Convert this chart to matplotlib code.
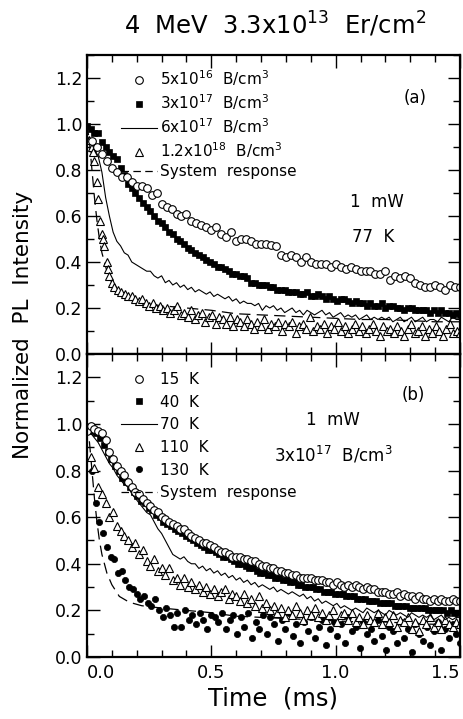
import numpy as np
import matplotlib.pyplot as plt
from matplotlib.ticker import MultipleLocator
from matplotlib.lines import Line2D

# ---- panel (a): 77 K, 1 mW, different B concentrations ----
b5e16 = [0.925, 0.90, 0.87, 0.84, 0.81, 0.79, 0.77, 0.77, 0.75, 0.73,
         0.73, 0.72, 0.69, 0.70, 0.65, 0.64, 0.63, 0.61, 0.60, 0.61,
         0.58, 0.57, 0.56, 0.55, 0.54, 0.55, 0.52, 0.51, 0.53, 0.49,
         0.50, 0.50, 0.49, 0.48, 0.48, 0.48, 0.475, 0.47, 0.43, 0.42,
         0.43, 0.42, 0.40, 0.42, 0.40, 0.39, 0.39, 0.39, 0.38, 0.39,
         0.38, 0.37, 0.38, 0.37, 0.36, 0.36, 0.36, 0.35, 0.35, 0.36,
         0.32, 0.34, 0.33, 0.34, 0.33, 0.31, 0.30, 0.29, 0.29, 0.30,
         0.29, 0.28, 0.30, 0.29, 0.29]
b3e17 = [0.99, 0.98, 0.96, 0.96, 0.92, 0.90, 0.88, 0.86, 0.85, 0.81,
         0.78, 0.74, 0.72, 0.70, 0.68, 0.655, 0.64, 0.62, 0.60, 0.58,
         0.57, 0.55, 0.53, 0.52, 0.50, 0.49, 0.48, 0.46, 0.45, 0.44,
         0.43, 0.42, 0.41, 0.40, 0.39, 0.38, 0.38, 0.37, 0.36, 0.35,
         0.35, 0.34, 0.34, 0.33, 0.31, 0.31, 0.30, 0.30, 0.30, 0.29,
         0.29, 0.28, 0.28, 0.28, 0.27, 0.27, 0.27, 0.26, 0.26, 0.27,
         0.25, 0.25, 0.26, 0.25, 0.24, 0.25, 0.24, 0.23, 0.24, 0.24,
         0.23, 0.22, 0.23, 0.22, 0.22, 0.21, 0.22, 0.21, 0.21, 0.22,
         0.20, 0.21, 0.21, 0.20, 0.20, 0.19, 0.20, 0.20, 0.19, 0.19,
         0.19, 0.19, 0.18, 0.19, 0.18, 0.19, 0.18, 0.18, 0.17, 0.18,
         0.17]
b6e17 = [0.95, 0.92, 0.89, 0.86, 0.79, 0.68, 0.60, 0.53, 0.49, 0.47,
         0.44, 0.43, 0.40, 0.39, 0.38, 0.37, 0.36, 0.36, 0.34, 0.33,
         0.34, 0.31, 0.32, 0.30, 0.31, 0.29, 0.30, 0.28, 0.29, 0.27,
         0.28, 0.27, 0.26, 0.27, 0.25, 0.26, 0.25, 0.24, 0.25, 0.23,
         0.24, 0.22, 0.23, 0.22, 0.22, 0.21, 0.22, 0.19, 0.21, 0.20,
         0.21, 0.19, 0.20, 0.18, 0.19, 0.20, 0.18, 0.19, 0.17, 0.19,
         0.18, 0.17, 0.18, 0.19, 0.17, 0.18, 0.16, 0.17, 0.18, 0.16,
         0.17, 0.16, 0.17, 0.15, 0.16, 0.17, 0.15, 0.16, 0.15, 0.16,
         0.15, 0.16, 0.14, 0.15, 0.16, 0.14, 0.15, 0.16, 0.14, 0.15,
         0.16, 0.14, 0.15, 0.15, 0.14, 0.16, 0.15, 0.14, 0.16, 0.15,
         0.15]
b12e18_t_early = [0.01, 0.02, 0.025, 0.03, 0.04, 0.045, 0.052, 0.06, 0.065,
                  0.07, 0.08, 0.085, 0.09, 0.10]
b12e18_early = [0.93, 0.90, 0.88, 0.84, 0.75, 0.675, 0.58, 0.52, 0.50,
                0.47, 0.40, 0.37, 0.34, 0.31]
b12e18_late = [0.29, 0.28, 0.27, 0.26, 0.25, 0.25, 0.24, 0.23, 0.24, 0.22,
               0.21, 0.22, 0.20, 0.21, 0.19, 0.20, 0.18, 0.19, 0.21, 0.17,
               0.18, 0.16, 0.19, 0.15, 0.17, 0.18, 0.14, 0.16, 0.17, 0.13,
               0.16, 0.15, 0.13, 0.16, 0.12, 0.15, 0.14, 0.12, 0.15, 0.13,
               0.11, 0.14, 0.12, 0.15, 0.11, 0.13, 0.12, 0.14, 0.10, 0.13,
               0.12, 0.14, 0.09, 0.12, 0.13, 0.11, 0.16, 0.10, 0.12, 0.11,
               0.13, 0.09, 0.12, 0.11, 0.14, 0.10, 0.12, 0.09, 0.11, 0.13,
               0.10, 0.12, 0.09, 0.11, 0.13, 0.10, 0.08, 0.12, 0.10, 0.11,
               0.09, 0.12, 0.10, 0.08, 0.11, 0.13, 0.09, 0.10, 0.12, 0.08,
               0.11, 0.09, 0.12, 0.10, 0.08, 0.11, 0.13, 0.09, 0.10, 0.09]

# system response (same in both panels)
sys_t = [0.0, 0.01, 0.02, 0.03, 0.04, 0.05, 0.06, 0.08, 0.10, 0.13, 0.17,
         0.22, 0.30, 0.40, 0.50, 0.60, 0.70, 0.80, 0.90, 1.00, 1.10, 1.20,
         1.30, 1.40, 1.50]
sys_v = [1.0, 0.92, 0.80, 0.68, 0.58, 0.50, 0.44, 0.36, 0.31, 0.26, 0.235,
         0.22, 0.21, 0.20, 0.19, 0.175, 0.17, 0.165, 0.16, 0.155, 0.15, 0.15,
         0.145, 0.14, 0.14]

# ---- panel (b): 3x10^17 B/cm^3, 1 mW, different temperatures ----
k15 = [0.97, 0.99, 0.98, 0.97, 0.96, 0.93, 0.88, 0.85, 0.82, 0.80,
       0.78, 0.75, 0.73, 0.71, 0.70, 0.68, 0.66, 0.65, 0.63, 0.62,
       0.60, 0.59, 0.58, 0.57, 0.56, 0.55, 0.55, 0.53, 0.52, 0.51,
       0.50, 0.49, 0.49, 0.48, 0.47, 0.46, 0.45, 0.45, 0.44, 0.43,
       0.43, 0.43, 0.42, 0.42, 0.41, 0.41, 0.40, 0.39, 0.39, 0.38,
       0.38, 0.37, 0.37, 0.36, 0.36, 0.35, 0.35, 0.34, 0.34, 0.34,
       0.34, 0.33, 0.33, 0.33, 0.32, 0.32, 0.31, 0.32, 0.31, 0.30,
       0.31, 0.30, 0.31, 0.30, 0.29, 0.30, 0.29, 0.29, 0.28, 0.28,
       0.28, 0.27, 0.27, 0.28, 0.26, 0.27, 0.26, 0.26, 0.25, 0.26,
       0.25, 0.25, 0.24, 0.25, 0.24, 0.25, 0.24, 0.24, 0.25, 0.24,
       0.24]
k40 = [0.98, 0.97, 0.96, 0.94, 0.91, 0.88, 0.85, 0.82, 0.80, 0.77,
       0.75, 0.73, 0.71, 0.69, 0.67, 0.66, 0.64, 0.63, 0.61, 0.60,
       0.58, 0.57, 0.56, 0.55, 0.54, 0.53, 0.52, 0.51, 0.50, 0.49,
       0.48, 0.47, 0.46, 0.46, 0.45, 0.44, 0.43, 0.43, 0.42, 0.41,
       0.40, 0.40, 0.39, 0.38, 0.38, 0.37, 0.36, 0.36, 0.35, 0.35,
       0.34, 0.34, 0.33, 0.33, 0.32, 0.32, 0.31, 0.31, 0.30, 0.30,
       0.30, 0.29, 0.29, 0.28, 0.28, 0.28, 0.27, 0.27, 0.27, 0.26,
       0.26, 0.26, 0.25, 0.25, 0.25, 0.24, 0.24, 0.24, 0.23, 0.23,
       0.23, 0.23, 0.22, 0.22, 0.22, 0.22, 0.21, 0.21, 0.21, 0.21,
       0.21, 0.20, 0.20, 0.20, 0.20, 0.20, 0.19, 0.20, 0.19, 0.19]
k70 = [0.97, 0.96, 0.94, 0.92, 0.89, 0.86, 0.83, 0.81, 0.78, 0.76,
       0.74, 0.73, 0.70, 0.68, 0.66, 0.64, 0.62, 0.61, 0.58, 0.55,
       0.53, 0.50, 0.47, 0.44, 0.43, 0.42, 0.43, 0.41, 0.40, 0.40,
       0.38, 0.39, 0.37, 0.38, 0.36, 0.37, 0.35, 0.36, 0.34, 0.35,
       0.33, 0.34, 0.32, 0.33, 0.31, 0.32, 0.30, 0.31, 0.30, 0.29,
       0.30, 0.28, 0.29, 0.28, 0.27, 0.28, 0.27, 0.26, 0.27, 0.25,
       0.26, 0.24, 0.25, 0.23, 0.24, 0.23, 0.22, 0.23, 0.21, 0.22,
       0.21, 0.20, 0.21, 0.20, 0.19, 0.21, 0.20, 0.19, 0.20, 0.19,
       0.18, 0.20, 0.19, 0.18, 0.19, 0.18, 0.17, 0.19, 0.18, 0.17,
       0.18, 0.17, 0.18, 0.16, 0.17, 0.18, 0.16, 0.17, 0.16, 0.17,
       0.17]
k110 = [0.86, 0.81, 0.73, 0.70, 0.66, 0.60, 0.62, 0.56, 0.54, 0.52,
        0.50, 0.47, 0.49, 0.44, 0.46, 0.41, 0.39, 0.42, 0.37, 0.38,
        0.35, 0.38, 0.33, 0.34, 0.31, 0.34, 0.30, 0.32, 0.29, 0.31,
        0.28, 0.30, 0.27, 0.29, 0.26, 0.28, 0.29, 0.25, 0.27, 0.26,
        0.24, 0.27, 0.23, 0.25, 0.22, 0.26, 0.21, 0.23, 0.20, 0.22,
        0.19, 0.21, 0.17, 0.20, 0.18, 0.22, 0.19, 0.16, 0.20, 0.18,
        0.21, 0.17, 0.19, 0.16, 0.18, 0.20, 0.15, 0.18, 0.19, 0.16,
        0.19, 0.15, 0.17, 0.14, 0.18, 0.16, 0.15, 0.19, 0.14, 0.17,
        0.15, 0.18, 0.13, 0.16, 0.15, 0.17, 0.12, 0.15, 0.11, 0.16,
        0.14, 0.17, 0.13, 0.15, 0.12, 0.16, 0.14, 0.13, 0.15, 0.14]
k130 = [0.80, 0.66, 0.58, 0.53, 0.47, 0.43, 0.42, 0.36, 0.37, 0.33,
        0.30, 0.29, 0.27, 0.25, 0.26, 0.23, 0.22, 0.25, 0.20, 0.17,
        0.21, 0.18, 0.13, 0.19, 0.13, 0.20, 0.16, 0.18, 0.14, 0.19,
        0.16, 0.12, 0.18, 0.17, 0.15, 0.19, 0.12, 0.16, 0.18, 0.10,
        0.17, 0.13, 0.19, 0.08, 0.15, 0.12, 0.18, 0.10, 0.17, 0.14,
        0.07, 0.16, 0.12, 0.19, 0.09, 0.14, 0.06, 0.15, 0.11, 0.17,
        0.08, 0.13, 0.16, 0.05, 0.12, 0.15, 0.09, 0.14, 0.06, 0.17,
        0.11, 0.13, 0.04, 0.15, 0.10, 0.12, 0.07, 0.16, 0.09, 0.03,
        0.13, 0.11, 0.06, 0.15, 0.08, 0.12, 0.02, 0.14, 0.10, 0.07,
        0.13, 0.05, 0.11, 0.15, 0.03, 0.12, 0.08, 0.14, 0.10, 0.06]

x_ticks = [0.0, 0.5, 1.0, 1.5]
x_ticklabels = ["0.0", "0.5", "1.0", "1.5"]

# sampling grids (evenly spaced acquisition)
t_b5e16 = np.linspace(0.02, 1.5, len(b5e16))
t_b3e17 = np.linspace(0.0, 1.5, len(b3e17))
t_b6e17 = np.linspace(0.0, 1.5, len(b6e17))
t_b12e18 = np.concatenate([b12e18_t_early, np.linspace(0.11, 1.5, len(b12e18_late))])
v_b12e18 = np.concatenate([b12e18_early, b12e18_late])
t_k15 = np.linspace(0.0, 1.5, len(k15))
t_k40 = np.linspace(0.0075, 1.4925, len(k40))
t_k70 = np.linspace(0.0, 1.5, len(k70))
t_k110 = np.linspace(0.015, 1.5, len(k110))
t_k130 = np.linspace(0.02, 1.5, len(k130))

#%%

plt.rcParams['font.family'] = 'DejaVu Sans'
plt.rcParams['mathtext.fontset'] = 'dejavusans'

fig = plt.figure(figsize=(4.64, 7.19), dpi=100)
W, H = 464.0, 719.0
ax_a = fig.add_axes([87/W, 1-354/H, 373/W, 299/H])
ax_b = fig.add_axes([87/W, 1-657/H, 373/W, 303/H])

open_c = dict(ls='none', marker='o', ms=5.5, mfc='white', mec='black', mew=0.8)
fill_s = dict(ls='none', marker='s', ms=4.5, mfc='black', mec='black', mew=0.5)
line_s = dict(color='black', lw=0.8)
open_t = dict(ls='none', marker='^', ms=5.2, mfc='white', mec='black', mew=0.8)
fill_c = dict(ls='none', marker='o', ms=4.5, mfc='black', mec='black', mew=0.5)
dash_s = dict(color='black', lw=0.9, ls=(0, (9, 5)))
dash_leg = dict(color='black', lw=0.9, ls=(0, (6, 3.5)))

# panel a
ax_a.plot(sys_t, sys_v, **dash_s)
ax_a.plot(t_b12e18, v_b12e18, **open_t)
ax_a.plot(t_b6e17, b6e17, **line_s)
ax_a.plot(t_b3e17, b3e17, **fill_s)
ax_a.plot(t_b5e16, b5e16, **open_c)

leg_a = [Line2D([], [], **open_c), Line2D([], [], **fill_s),
         Line2D([], [], **line_s), Line2D([], [], **open_t),
         Line2D([], [], **dash_leg)]
lab_a = [r"5x10$^{16}$  B/cm$^{3}$", r"3x10$^{17}$  B/cm$^{3}$",
         r"6x10$^{17}$  B/cm$^{3}$", r"1.2x10$^{18}$  B/cm$^{3}$",
         "System  response"]
ax_a.legend(leg_a, lab_a, loc='upper left', bbox_to_anchor=(0.09, 0.955),
            frameon=False, fontsize=11, handlelength=2.4, handletextpad=0.15,
            labelspacing=0.28, borderpad=0, borderaxespad=0)
ax_a.text(0.88, 0.856, "(a)", transform=ax_a.transAxes, ha='center', va='center', fontsize=12)
ax_a.text(0.777, 0.508, "1  mW", transform=ax_a.transAxes, ha='center', va='center', fontsize=12)
ax_a.text(0.767, 0.391, "77  K", transform=ax_a.transAxes, ha='center', va='center', fontsize=12)

# panel b
ax_b.plot(sys_t, sys_v, **dash_s)
ax_b.plot(t_k130, k130, **fill_c)
ax_b.plot(t_k110, k110, **open_t)
ax_b.plot(t_k70, k70, **line_s)
ax_b.plot(t_k40, k40, **fill_s)
ax_b.plot(t_k15, k15, **open_c)

leg_b = [Line2D([], [], **open_c), Line2D([], [], **fill_s),
         Line2D([], [], **line_s), Line2D([], [], **open_t),
         Line2D([], [], **fill_c), Line2D([], [], **dash_leg)]
lab_b = ["15  K", "40  K", "70  K", "110  K", "130  K", "System  response"]
ax_b.legend(leg_b, lab_b, loc='upper left', bbox_to_anchor=(0.09, 0.94),
            frameon=False, fontsize=11, handlelength=2.4, handletextpad=0.15,
            labelspacing=0.5, borderpad=0, borderaxespad=0)
ax_b.text(0.874, 0.865, "(b)", transform=ax_b.transAxes, ha='center', va='center', fontsize=12)
ax_b.text(0.66, 0.782, "1  mW", transform=ax_b.transAxes, ha='center', va='center', fontsize=12)
ax_b.text(0.66, 0.667, r"3x10$^{17}$  B/cm$^{3}$", transform=ax_b.transAxes,
          ha='center', va='center', fontsize=12)

for ax in (ax_a, ax_b):
    ax.set_xlim(0, 1.5)
    ax.set_ylim(0, 1.3)
    ax.set_xticks(x_ticks)
    ax.xaxis.set_minor_locator(MultipleLocator(0.1))
    ax.yaxis.set_major_locator(MultipleLocator(0.2))
    ax.yaxis.set_minor_locator(MultipleLocator(0.1))
    ax.tick_params(which='both', direction='in', top=True, right=True, width=1.0,
                   labelsize=12.5)
    ax.tick_params(which='major', length=9)
    ax.tick_params(which='minor', length=5)
    ax.yaxis.set_major_formatter(plt.FormatStrFormatter('%.1f'))
    for sp in ax.spines.values():
        sp.set_linewidth(1.6)

ax_a.tick_params(axis='x', labelbottom=False)
ax_b.set_xticklabels(x_ticklabels)
ax_b.tick_params(axis='x', labelsize=13, pad=5)
for lab in ax_b.get_xticklabels():
    if lab.get_text() == "0.0":
        lab.set_ha('left')
        lab.set_x(-0.003)
    elif lab.get_text() == "1.5":
        lab.set_ha('right')

ax_b.set_xlabel("Time  (ms)", fontsize=17.5, labelpad=3)
fig.text(23/W, 1-325/H, "Normalized  PL  Intensity", rotation=90,
         ha='center', va='center', fontsize=15.5)
fig.text(275/W, 1-24/H, r"4  MeV  3.3x10$^{13}$  Er/cm$^{2}$",
         ha='center', va='center', fontsize=17.5)

fig.savefig("out.png", dpi=100)
